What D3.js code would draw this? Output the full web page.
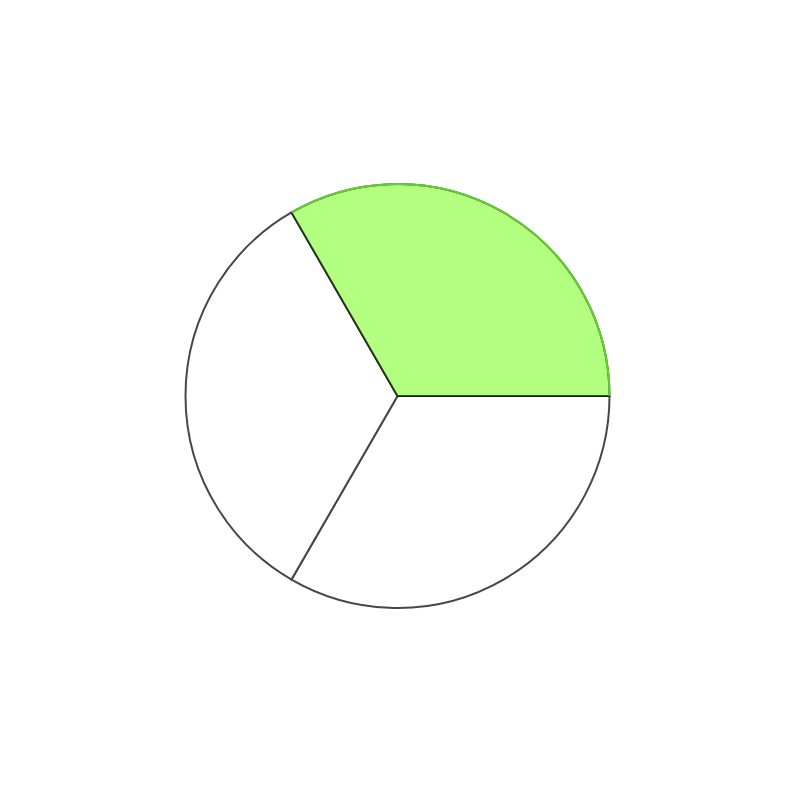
<!DOCTYPE html>
<html><head><meta charset="utf-8">
<script src="https://cdn.jsdelivr.net/npm/d3@7"></script>
<style>body{margin:0;background:#fff;}</style>
</head><body>
<svg id="c" width="800" height="801"></svg>
<script>
const categories = ["A", "B", "C"];
const values = [1, 1, 1];
const highlighted = ["A"];

const svg = d3.select("#c");
const g = svg.append("g").attr("transform", "translate(397.5,396)");
const R = 212;
const pie = d3.pie().sort(null).startAngle(-Math.PI/6).endAngle(2*Math.PI - Math.PI/6);
const arcs = pie(values).map((d, i) => ({...d, cat: categories[i]}));
const arc = d3.arc().innerRadius(0).outerRadius(R);
const rim = d3.arc().innerRadius(R).outerRadius(R);

const hl = arcs.filter(d => highlighted.includes(d.cat));
const rest = arcs.filter(d => !highlighted.includes(d.cat));

g.selectAll("path.rest").data(rest).join("path").attr("class","rest")
  .attr("d", arc).attr("fill", "#fff").attr("stroke", "#474747").attr("stroke-width", 2);
g.selectAll("path.hl").data(hl).join("path").attr("class","hl")
  .attr("d", arc).attr("fill", "#b3ff80").attr("stroke", "rgba(0,20,0,0.75)").attr("stroke-width", 2);
g.selectAll("path.rim").data(hl).join("path").attr("class","rim")
  .attr("d", rim).attr("fill", "none").attr("stroke", "#66cc33").attr("stroke-width", 2);
</script>
</body></html>
